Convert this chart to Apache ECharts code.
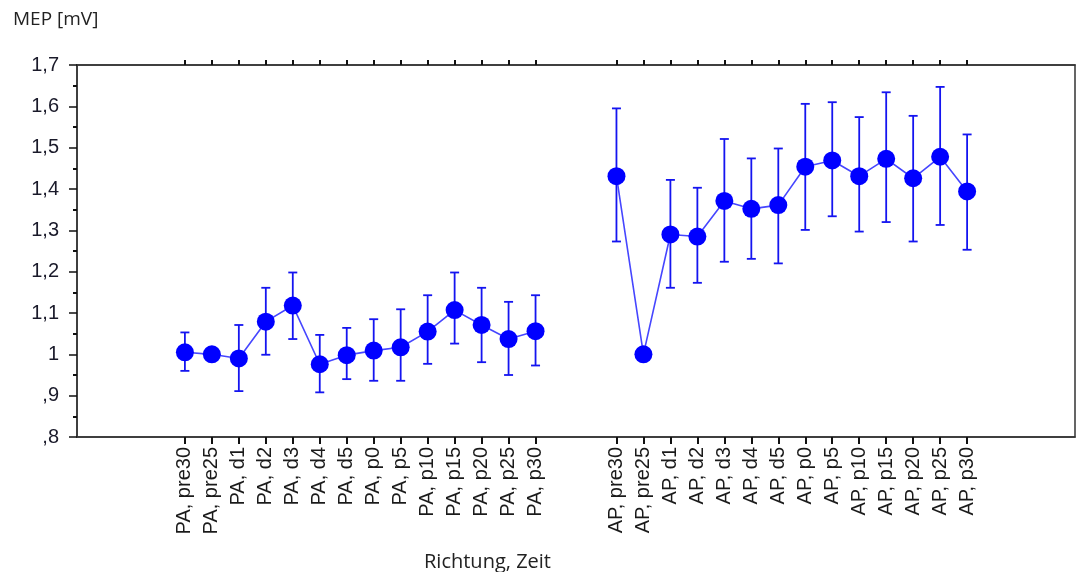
<!DOCTYPE html>
<html>
<head>
<meta charset="utf-8">
<script src="https://cdn.jsdelivr.net/npm/echarts@6/dist/echarts.min.js"></script>
<style>
  html, body { margin: 0; padding: 0; background: #fff; }
  #chart { width: 1078px; height: 572px; }
</style>
</head>
<body>
<div id="chart"></div>
<script>
// Time points per stimulation direction
const paLabels = ['PA, pre30', 'PA, pre25', 'PA, d1', 'PA, d2', 'PA, d3', 'PA, d4', 'PA, d5',
                  'PA, p0', 'PA, p5', 'PA, p10', 'PA, p15', 'PA, p20', 'PA, p25', 'PA, p30'];
const apLabels = ['AP, pre30', 'AP, pre25', 'AP, d1', 'AP, d2', 'AP, d3', 'AP, d4', 'AP, d5',
                  'AP, p0', 'AP, p5', 'AP, p10', 'AP, p15', 'AP, p20', 'AP, p25', 'AP, p30'];

// Normalised MEP amplitude (mean) with lower / upper error limits
const paMean = [1.005, 1.0, 0.99, 1.079, 1.118, 0.976, 0.998, 1.009, 1.017, 1.055, 1.107, 1.071, 1.037, 1.056];
const paLow  = [0.96, null, 0.911, 0.999, 1.037, 0.908, 0.94, 0.936, 0.936, 0.977, 1.026, 0.981, 0.95, 0.973];
const paHigh = [1.053, null, 1.071, 1.161, 1.198, 1.047, 1.064, 1.085, 1.109, 1.143, 1.198, 1.161, 1.127, 1.143];

const apMean = [1.431, 1.0, 1.29, 1.285, 1.371, 1.352, 1.361, 1.454, 1.469, 1.431, 1.473, 1.426, 1.478, 1.394];
const apLow  = [1.273, null, 1.161, 1.173, 1.224, 1.231, 1.22, 1.301, 1.334, 1.297, 1.32, 1.273, 1.313, 1.253];
const apHigh = [1.595, null, 1.422, 1.403, 1.521, 1.474, 1.498, 1.606, 1.61, 1.574, 1.634, 1.577, 1.647, 1.532];

// Empty slots on the category axis: before, between and after the two groups
const leadSlots = 4, gapSlots = 2, tailSlots = 4;

const blanks = n => new Array(n).fill('');
const nulls = n => new Array(n).fill(null);

const categories = [].concat(blanks(leadSlots), paLabels, blanks(gapSlots), apLabels, blanks(tailSlots));
const meanData = [].concat(nulls(leadSlots), paMean, nulls(gapSlots), apMean, nulls(tailSlots));

const errorData = [];
paMean.forEach((_, i) => {
  if (paLow[i] != null) errorData.push([leadSlots + i, paLow[i], paHigh[i]]);
});
const apStart = leadSlots + paLabels.length + gapSlots;
apMean.forEach((_, i) => {
  if (apLow[i] != null) errorData.push([apStart + i, apLow[i], apHigh[i]]);
});

const isReal = (idx, val) => val !== '';

const chart = echarts.init(document.getElementById('chart'), null, { renderer: 'canvas' });

chart.setOption({
  animation: false,
  backgroundColor: '#ffffff',
  title: [
    {
      text: 'MEP [mV]', left: 8, top: 5,
      textStyle: { fontFamily: 'Open Sans', fontSize: 19, fontWeight: 'normal', color: '#222' }
    },
    {
      text: 'Richtung, Zeit', left: 419, top: 547,
      textStyle: { fontFamily: 'Open Sans', fontSize: 20, fontWeight: 'normal', color: '#222' }
    }
  ],
  grid: {
    left: 77, right: 3, top: 65, bottom: 135,
    show: true, borderColor: '#333', borderWidth: 1.5, backgroundColor: 'transparent'
  },
  xAxis: [
    {
      type: 'category',
      data: categories,
      boundaryGap: false,
      position: 'bottom',
      axisLine: { lineStyle: { color: '#333', width: 1.5 } },
      axisTick: { show: true, interval: isReal, length: 7, lineStyle: { color: '#111', width: 2 } },
      axisLabel: {
        interval: 0, rotate: 90, margin: 10,
        fontFamily: 'Liberation Sans', fontSize: 20, color: '#1a1a1a'
      },
      splitLine: { show: false }
    },
    {
      type: 'category',
      data: categories,
      boundaryGap: false,
      position: 'top',
      axisLine: { lineStyle: { color: '#333', width: 1.5 } },
      axisTick: { show: true, interval: isReal, length: 5, lineStyle: { color: '#111', width: 2 } },
      axisLabel: { show: false },
      splitLine: { show: false }
    }
  ],
  yAxis: {
    type: 'value',
    min: 0.8, max: 1.7, interval: 0.1,
    axisLine: { show: true, lineStyle: { color: '#333', width: 1.5 } },
    axisTick: { show: true, length: 8, lineStyle: { color: '#111', width: 1.5 } },
    minorTick: { show: true, splitNumber: 2, length: 4, lineStyle: { color: '#111', width: 2 } },
    splitLine: { show: false },
    axisLabel: {
      margin: 18,
      fontFamily: 'Liberation Sans', fontSize: 20, color: '#1a1a2a',
      formatter: v => {
        const s = String(Math.round(v * 10) / 10).replace('.', ',');
        return s.startsWith('0') ? s.slice(1) : s;
      }
    }
  },
  series: [
    {
      name: 'Fehlerbalken',
      type: 'custom',
      xAxisIndex: 0,
      z: 2,
      data: errorData,
      renderItem: (params, api) => {
        const x = api.value(0);
        const lo = api.coord([x, api.value(1)]);
        const hi = api.coord([x, api.value(2)]);
        const half = 4.5;
        const style = { stroke: '#1414f0', lineWidth: 1.8 };
        return {
          type: 'group',
          children: [
            { type: 'line', shape: { x1: lo[0], y1: lo[1], x2: hi[0], y2: hi[1] }, style },
            { type: 'line', shape: { x1: hi[0] - half, y1: hi[1], x2: hi[0] + half, y2: hi[1] }, style },
            { type: 'line', shape: { x1: lo[0] - half, y1: lo[1], x2: lo[0] + half, y2: lo[1] }, style }
          ]
        };
      }
    },
    {
      name: 'MEP',
      type: 'line',
      xAxisIndex: 0,
      z: 3,
      data: meanData,
      connectNulls: false,
      symbol: 'circle',
      symbolSize: 18,
      itemStyle: { color: '#0000ff' },
      lineStyle: { color: '#4646ff', width: 1.6 }
    }
  ]
});
</script>
</body>
</html>
